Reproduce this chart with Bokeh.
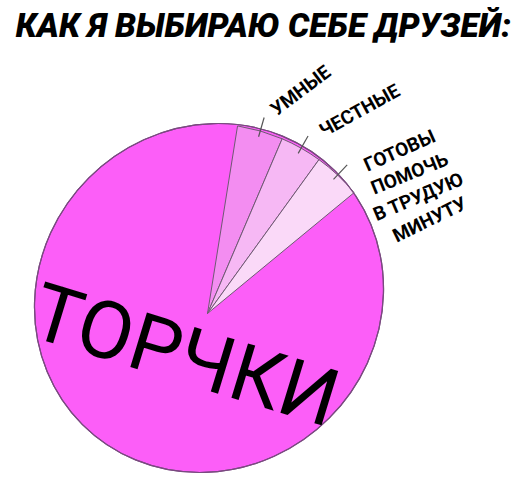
import numpy as np
from bokeh.plotting import figure
from bokeh.models import Range1d
from bokeh.core.properties import value
from bokeh.embed import file_html
from bokeh.resources import INLINE

# ---- data ----
title = "КАК Я ВЫБИРАЮ СЕБЕ ДРУЗЕЙ:"
categories = ["УМНЫЕ", "ЧЕСТНЫЕ", "ГОТОВЫ ПОМОЧЬ В ТРУДУЮ МИНУТУ", "ТОРЧКИ"]
shares = [3.9, 3.55, 4.05, 88.5]          # percent
slice_colors = ["#F38DF1", "#F6B8F4", "#FAD9F8", "#FC5EF8"]
label_lines = [["УМНЫЕ"], ["ЧЕСТНЫЕ"], ["ГОТОВЫ", "ПОМОЧЬ", "В ТРУДУЮ", "МИНУТУ"]]

W, H = 520, 482
p = figure(width=W, height=H, output_backend="svg", toolbar_location=None,
           x_range=Range1d(0, W), y_range=Range1d(0, H), min_border=0)
p.axis.visible = False
p.grid.visible = False
p.outline_line_color = None
p.background_fill_color = "white"

def Y(py):
    return H - py

edge = "#7a4a80"
# whole pie (the big remainder) - slightly oval, hand-drawn look
p.ellipse(x=[208.5], y=[Y(297.5)], width=358, height=340, angle=np.pi / 4,
          fill_color=slice_colors[3], line_color=edge, line_width=1.2)

# small slices, measured clockwise from 12 o'clock
start_cw = 9.1
apex_x, apex_y = 207, Y(313)
R = 190
cum = np.cumsum([0] + shares)
a0 = start_cw + 3.6 * cum[:-1]
a1 = start_cw + 3.6 * cum[1:]
for i in range(3):
    p.wedge(x=[apex_x], y=[apex_y], radius=R,
            start_angle=[np.radians(90 - a1[i])], end_angle=[np.radians(90 - a0[i])],
            fill_color=slice_colors[i], line_color="#6e5a72", line_width=1)

# outline again on top
p.ellipse(x=[208.5], y=[Y(297.5)], width=358, height=340, angle=np.pi / 4,
          fill_color=None, line_color=edge, line_width=1.2)

# leader ticks
for i in range(3):
    mid = np.radians((a0[i] + a1[i]) / 2)
    xs = [apex_x + 184 * np.sin(mid), apex_x + 204 * np.sin(mid)]
    ys = [apex_y + 184 * np.cos(mid), apex_y + 204 * np.cos(mid)]
    p.line(xs, ys, line_color="#555555", line_width=1.2)

# labels
lab_font = value("Roboto")
lab_pos = [[(300, 90)], [(359, 110)],
           [(399, 150), (409, 173), (418, 196), (429, 219)]]
lab_ang = [[37], [29], [24, 22, 23, 26]]
for i in range(3):
    for t, (px, py), ang in zip(label_lines[i], lab_pos[i], lab_ang[i]):
        p.text(x=[px], y=[Y(py)], text=[t], angle=np.radians(ang),
               text_font=lab_font, text_font_style="bold", text_font_size="19px",
               text_align="center", text_baseline="middle", text_color="black")

# big label
p.text(x=[185], y=[Y(355)], text=[categories[3]], angle=np.radians(-17),
       text_font=value("Roboto"), text_font_size="80px", text_align="center",
       text_baseline="middle", text_color="black")

# title
p.text(x=[263], y=[Y(25)], text=[title], text_font=value("Roboto Black, Roboto"),
       text_font_style="bold italic", text_font_size="33.5px",
       text_align="center", text_baseline="middle", text_color="black")

open("out.html", "w").write(file_html(p, INLINE))
